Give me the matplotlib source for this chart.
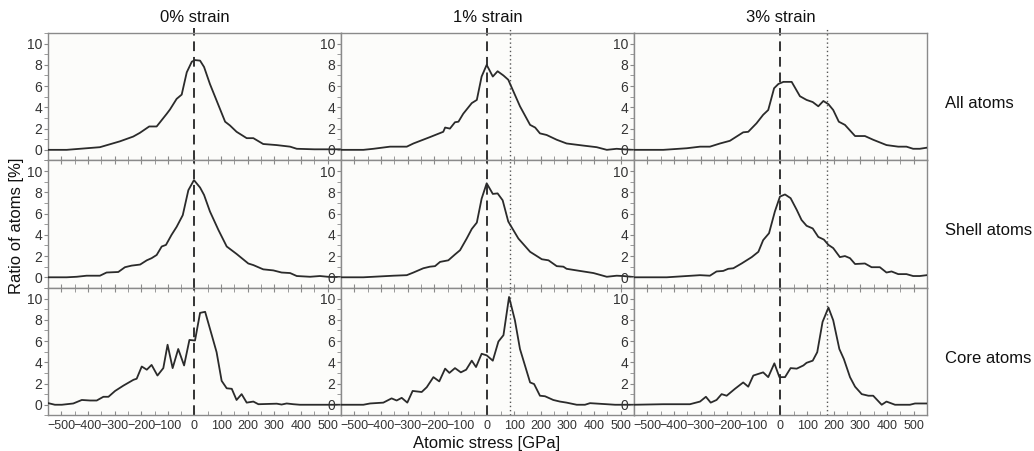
import numpy as np
import matplotlib
matplotlib.use("Agg")
import matplotlib.pyplot as plt
from matplotlib.ticker import MultipleLocator

plt.rcParams["font.family"] = ["Liberation Sans", "DejaVu Sans"]

strains = ["0% strain", "1% strain", "3% strain"]
groups = ["All atoms", "Shell atoms", "Core atoms"]
peak_lines = [None, 83, 175]  # dotted reference line per strain (GPa)

# ---- All atoms ----
all_0_x = [-548, -480, -355, -280, -230, -205, -170, -142, -104, -92, -67, -48, -29, -10, 2, 21, 36, 58, 115, 133, 158, 196, 221, 258, 308, 359, 384, 450, 548]
all_0_y = [0.0, 0.0, 0.25, 0.8, 1.25, 1.6, 2.2, 2.2, 3.4, 3.8, 4.8, 5.2, 7.3, 8.3, 8.45, 8.4, 7.8, 6.2, 2.65, 2.3, 1.7, 1.1, 1.1, 0.55, 0.45, 0.3, 0.1, 0.05, 0.05]

all_1_x = [-550, -466, -428, -366, -303, -278, -216, -166, -159, -141, -122, -109, -91, -59, -40, -22, -3, 20, 38, 60, 78, 122, 160, 179, 197, 222, 260, 297, 360, 410, 448, 485, 510, 548]
all_1_y = [0.0, 0.0, 0.1, 0.3, 0.3, 0.6, 1.2, 1.7, 2.1, 2.0, 2.6, 2.65, 3.4, 4.4, 4.7, 6.9, 8.0, 6.9, 7.4, 7.0, 6.6, 4.1, 2.35, 2.1, 1.55, 1.4, 0.95, 0.6, 0.4, 0.25, 0.0, 0.1, 0.05, 0.0]

all_3_x = [-550, -477, -440, -352, -302, -265, -227, -190, -140, -121, -90, -65, -46, -24, -8, 11, 42, 73, 98, 121, 142, 161, 180, 198, 219, 242, 280, 317, 348, 398, 442, 473, 498, 523, 549]
all_3_y = [0.0, 0.0, 0.0, 0.15, 0.3, 0.3, 0.6, 0.85, 1.65, 1.7, 2.5, 3.3, 3.75, 5.8, 6.2, 6.4, 6.4, 5.05, 4.7, 4.5, 4.1, 4.6, 4.3, 3.75, 2.65, 2.35, 1.3, 1.3, 0.95, 0.45, 0.3, 0.3, 0.1, 0.1, 0.2]

# ---- Shell atoms ----
shell_0_x = [-549, -480, -442, -405, -355, -330, -286, -261, -236, -204, -179, -161, -142, -123, -107, -86, -67, -44, -23, -2, 21, 36, 58, 90, 121, 158, 202, 221, 258, 296, 327, 359, 384, 434, 471, 509, 546]
shell_0_y = [0.0, 0.0, 0.05, 0.15, 0.15, 0.45, 0.5, 0.95, 1.1, 1.2, 1.6, 1.8, 2.1, 2.9, 3.05, 4.0, 4.75, 5.85, 8.2, 9.15, 8.45, 7.75, 6.2, 4.45, 2.9, 2.2, 1.3, 1.15, 0.75, 0.65, 0.45, 0.4, 0.12, 0.05, 0.12, 0.03, 0.03]

shell_1_x = [-550, -466, -428, -353, -303, -278, -241, -216, -197, -178, -147, -122, -103, -78, -59, -40, -22, -3, 20, 38, 57, 78, 116, 160, 204, 229, 260, 285, 297, 347, 398, 448, 485, 510, 548]
shell_1_y = [0.0, 0.0, 0.05, 0.15, 0.2, 0.45, 0.85, 1.0, 1.05, 1.45, 1.6, 2.15, 2.55, 3.65, 4.55, 5.15, 7.4, 8.85, 7.85, 7.9, 7.25, 5.25, 3.65, 2.4, 1.7, 1.6, 1.05, 1.0, 0.8, 0.6, 0.4, 0.05, 0.15, 0.12, 0.03]

shell_3_x = [-550, -427, -352, -302, -265, -240, -215, -196, -177, -146, -108, -83, -65, -43, -21, -2, 17, 38, 61, 79, 98, 121, 142, 163, 180, 198, 223, 242, 261, 280, 317, 342, 373, 398, 417, 442, 473, 498, 523, 549]
shell_3_y = [0.0, 0.0, 0.12, 0.2, 0.15, 0.55, 0.6, 0.8, 0.85, 1.3, 1.9, 2.4, 3.5, 4.15, 6.2, 7.6, 7.8, 7.45, 6.35, 5.4, 4.85, 4.6, 3.8, 3.55, 3.05, 2.75, 1.9, 2.0, 1.8, 1.25, 1.3, 0.95, 0.95, 0.45, 0.55, 0.3, 0.3, 0.12, 0.12, 0.2]

# ---- Core atoms ----
core_0_x = [-549, -524, -498, -480, -455, -423, -392, -367, -342, -323, -298, -267, -229, -217, -198, -179, -161, -139, -117, -101, -82, -61, -39, -19, 2, 21, 40, 65, 83, 102, 121, 140, 158, 177, 196, 221, 240, 309, 327, 346, 371, 396, 546]
core_0_y = [0.15, 0.0, 0.0, 0.05, 0.12, 0.45, 0.4, 0.4, 0.75, 0.75, 1.3, 1.8, 2.35, 2.45, 3.6, 3.3, 3.75, 2.75, 3.45, 5.65, 3.45, 5.25, 3.7, 6.1, 6.05, 8.65, 8.75, 6.55, 4.95, 2.25, 1.55, 1.5, 0.45, 1.0, 0.2, 0.3, 0.05, 0.1, 0.02, 0.12, 0.05, 0.0, 0.0]

core_1_x = [-550, -466, -441, -391, -360, -341, -322, -301, -281, -247, -228, -203, -181, -159, -143, -122, -100, -80, -59, -43, -22, -3, 20, 41, 60, 81, 103, 122, 160, 175, 197, 216, 247, 272, 297, 335, 366, 385, 448, 479, 510, 548]
core_1_y = [0.0, 0.0, 0.12, 0.2, 0.6, 0.4, 0.65, 0.2, 1.3, 1.2, 1.65, 2.6, 2.2, 3.4, 3.0, 3.45, 3.05, 3.3, 4.15, 3.55, 4.8, 4.65, 4.15, 5.95, 6.55, 10.15, 7.95, 5.25, 2.1, 1.95, 0.85, 0.8, 0.45, 0.3, 0.2, 0.0, 0.0, 0.15, 0.05, 0.0, 0.0, 0.0]

core_3_x = [-550, -440, -340, -302, -280, -262, -240, -221, -202, -171, -140, -121, -102, -65, -46, -23, -4, 17, 38, 61, 86, 98, 121, 138, 158, 180, 198, 221, 238, 261, 280, 305, 330, 348, 380, 398, 430, 486, 505, 549]
core_3_y = [0.0, 0.05, 0.05, 0.3, 0.75, 0.2, 0.45, 1.0, 0.85, 1.5, 2.1, 1.7, 2.75, 3.05, 2.6, 3.9, 2.6, 2.6, 3.45, 3.4, 3.7, 3.95, 4.15, 4.95, 7.8, 9.15, 7.95, 5.25, 4.3, 2.6, 1.7, 1.0, 0.85, 0.85, 0.0, 0.3, 0.0, 0.0, 0.12, 0.12]

series = [
    [(all_0_x, all_0_y), (all_1_x, all_1_y), (all_3_x, all_3_y)],
    [(shell_0_x, shell_0_y), (shell_1_x, shell_1_y), (shell_3_x, shell_3_y)],
    [(core_0_x, core_0_y), (core_1_x, core_1_y), (core_3_x, core_3_y)],
]

x_ticks = [-500, -400, -300, -200, -100, 0, 100, 200, 300, 400, 500]
y_ticks = [0, 2, 4, 6, 8, 10]

fig, axes = plt.subplots(3, 3, figsize=(10.34, 4.51), dpi=100)
fig.patch.set_facecolor("white")
fig.subplots_adjust(left=0.0464, right=0.8965, top=0.9268, bottom=0.0790,
                    wspace=0, hspace=0)

spine_col = "#8a8a8a"
line_col = "#2b2b2b"
text_col = "#333333"

for r in range(3):
    for c in range(3):
        ax = axes[r, c]
        ax.set_facecolor("#fcfcfa")
        xs, ys = series[r][c]
        ax.plot(xs, ys, color=line_col, lw=1.3, zorder=3)

        ext = 1.04 if r == 0 else 1.0
        ax.axvline(0, ymin=0, ymax=ext, color="#333333", lw=1.4,
                   dashes=(5, 3), clip_on=False, zorder=2)
        if peak_lines[c] is not None:
            ax.axvline(peak_lines[c], ymin=0, ymax=ext, color="#555555",
                       lw=1.0, ls=(0, (1, 2)), clip_on=False, zorder=2)

        ax.set_xlim(-550, 550)
        ax.set_ylim(-1, 11)
        ax.set_xticks(x_ticks)
        ax.xaxis.set_minor_locator(MultipleLocator(50))
        ax.set_yticks(y_ticks)
        ax.yaxis.set_minor_locator(MultipleLocator(1))
        ax.tick_params(axis="y", which="both", direction="out", color=spine_col,
                       labelcolor=text_col, labelsize=10, pad=1)
        ax.tick_params(axis="x", which="both", direction="in", color=spine_col,
                       labelcolor=text_col, labelsize=9, pad=3,
                       top=(r > 0))
        ax.tick_params(which="major", length=3, width=0.8)
        ax.tick_params(which="minor", length=3, width=0.6)
        if r < 2:
            ax.tick_params(axis="x", labelbottom=False)
        for s in ax.spines.values():
            s.set_color(spine_col)
            s.set_linewidth(1.0)

        if r == 0:
            ax.set_title(strains[c], fontsize=12, color="#111111", pad=8)
        if c == 2:
            ax.text(1.06, 0.45, groups[r], transform=ax.transAxes,
                    ha="left", va="center", fontsize=12, color="#111111")

fig.text(0.016, 0.5, "Ratio of atoms [%]", rotation=90, ha="center",
         va="center", fontsize=12, color="#111111")
fig.text(0.471, 0.017, "Atomic stress [GPa]", ha="center", va="center",
         fontsize=12, color="#111111")

fig.savefig("out.png", dpi=100)
